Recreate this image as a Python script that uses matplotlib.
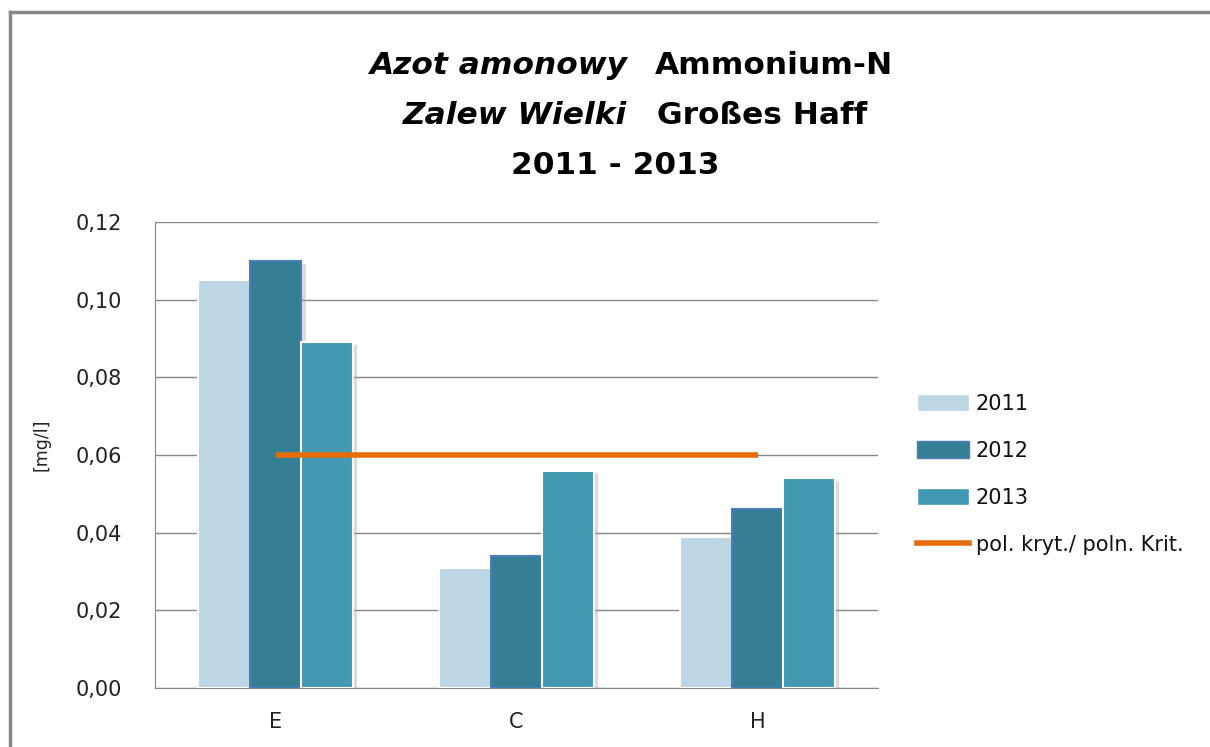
import matplotlib
matplotlib.use('Agg')
import matplotlib.pyplot as plt
import matplotlib.patheffects as pe
from matplotlib.lines import Line2D
from matplotlib.patches import Patch
import numpy as np

plt.rcParams['font.family'] = ['DejaVu Sans']

stations = ['E', 'C', 'H']
years = ['2011', '2012', '2013']
v2011 = [0.105, 0.031, 0.039]
v2012 = [0.110, 0.034, 0.046]
v2013 = [0.089, 0.056, 0.054]
critical = 0.06
crit_label = 'pol. kryt./ poln. Krit.'

colors = ['#BCD7E3', '#357F94', '#4399B1']
edges = ['white', '#4A7EBB', 'white']

W, H = 1210, 747
fig = plt.figure(figsize=(W / 100, H / 100), dpi=100)
ax = fig.add_axes([155 / W, 1 - 688 / H, 723 / W, 466 / H])

x = np.arange(len(stations))
w = 0.215
shadow = [pe.SimplePatchShadow(offset=(3, -2), shadow_rgbFace='#999999', alpha=0.35), pe.Normal()]
for i, vals in enumerate([v2011, v2012, v2013]):
    bars = ax.bar(x + (i - 1) * w, vals, w, color=colors[i], edgecolor=edges[i],
                  linewidth=1.5, zorder=3, label=years[i])
    for b in bars:
        b.set_path_effects(shadow)

ax.plot([x[0], x[-1]], [critical, critical], color='#E46C0A', linewidth=4, zorder=4,
        solid_capstyle='butt')

ticks = np.arange(0, 0.121, 0.02)
ax.set_xlim(-0.5, 2.5)
ax.set_ylim(0, 0.12)
ax.set_yticks(ticks)
ax.set_yticklabels([f'{t:.2f}'.replace('.', ',') for t in ticks])
ax.set_xticks(x)
ax.set_xticklabels(stations)
ax.tick_params(length=0, labelsize=15)
ax.tick_params(axis='y', pad=24, labelcolor='#222222')
ax.tick_params(axis='x', pad=17, labelcolor='#222222')
ax.grid(axis='y', color='#868686', linewidth=1, zorder=0)
for s in ['top', 'right']:
    ax.spines[s].set_visible(False)
ax.spines['left'].set_color('#868686')
ax.spines['bottom'].set_color('#868686')
ax.set_ylabel('[mg/l]', fontsize=12.5, color='#222222')
ax.yaxis.set_label_coords((51 - 155) / 723, (688 - 445) / 466)

handles = [Patch(facecolor=colors[i], edgecolor=edges[i], label=years[i]) for i in range(3)]
handles.append(Line2D([0], [0], color='#E46C0A', linewidth=4, label=crit_label))
leg = fig.legend(handles=handles, loc='upper left', bbox_to_anchor=(898 / W, 1 - 375 / H),
                 frameon=False, fontsize=15, handlelength=2.5, handleheight=0.9,
                 labelspacing=1.3, handletextpad=0.33)
for t in leg.get_texts():
    t.set_color('#111111')

# title pieces
tfs = 22.5
fig.text(627 / W, 1 - 65 / H, 'Azot amonowy', ha='right', va='center',
         fontsize=tfs, style='italic', fontweight='bold')
fig.text(655 / W, 1 - 65 / H, 'Ammonium-N', ha='left', va='center',
         fontsize=tfs, fontweight='bold')
fig.text(627 / W, 1 - 115 / H, 'Zalew Wielki', ha='right', va='center',
         fontsize=tfs, style='italic', fontweight='bold')
fig.text(657 / W, 1 - 115 / H, 'Großes Haff', ha='left', va='center',
         fontsize=tfs, fontweight='bold')
fig.text(615 / W, 1 - 165 / H, '2011 - 2013', ha='center', va='center',
         fontsize=tfs, fontweight='bold')

# outer chart border
fig.add_artist(Line2D([10 / W, 1], [1 - 12 / H, 1 - 12 / H], color='#898989',
                      linewidth=2.5, transform=fig.transFigure))
fig.add_artist(Line2D([10 / W, 10 / W], [0, 1 - 12 / H], color='#898989',
                      linewidth=2.5, transform=fig.transFigure))

fig.savefig('out.png', dpi=100)
